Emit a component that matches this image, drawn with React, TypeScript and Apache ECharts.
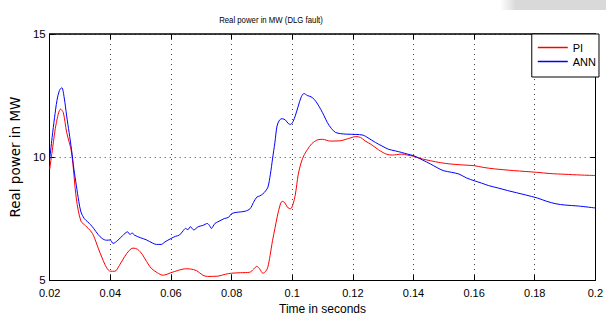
import React, { useEffect, useRef } from "react";
import * as echarts from "echarts";

const titleText = "Real power in MW (DLG fault)";
const xAxisName = "Time in seconds";
const yAxisName = "Real power in MW";
const seriesNames = ["PI", "ANN"];
const xTicks = [0.02, 0.04, 0.06, 0.08, 0.1, 0.12, 0.14, 0.16, 0.18, 0.2];
const yTicks = [5, 10, 15];

const piTime = [
  0.02, 0.021, 0.0222, 0.0236, 0.0245, 0.0256, 0.0272, 0.0288, 0.0303, 0.0319,
  0.0335, 0.0345, 0.036, 0.0373, 0.0388, 0.04, 0.0415, 0.043, 0.0447, 0.0462,
  0.0475, 0.049, 0.0505, 0.052, 0.0535, 0.0555, 0.0574, 0.06, 0.0625, 0.0648,
  0.0665, 0.0685, 0.0705, 0.072, 0.0755, 0.078, 0.08, 0.083, 0.086, 0.0873,
  0.0883, 0.0893, 0.0903, 0.0912, 0.0919, 0.0927, 0.0935, 0.0943, 0.0951, 0.096,
  0.0967, 0.0975, 0.0985, 0.0995, 0.1003, 0.101, 0.102, 0.103, 0.104, 0.105,
  0.1065, 0.1084, 0.11, 0.1125, 0.1157, 0.1185, 0.121, 0.1225, 0.124, 0.1262,
  0.1284, 0.131, 0.133, 0.1345, 0.136, 0.138, 0.14, 0.142, 0.1456, 0.149,
  0.152, 0.156, 0.16, 0.163, 0.1667, 0.173, 0.1807, 0.185, 0.19, 0.195, 0.2,
];
const piPower = [
  9.5, 10.4, 11.4, 11.95, 11.8, 11.0, 10.2, 8.3, 7.4, 7.2,
  7.0, 6.8, 6.3, 5.9, 5.5, 5.36, 5.36, 5.6, 5.95, 6.2,
  6.3, 6.25, 6.05, 5.75, 5.48, 5.3, 5.2, 5.3, 5.4, 5.46,
  5.45, 5.38, 5.2, 5.15, 5.16, 5.24, 5.28, 5.3, 5.32, 5.45,
  5.56, 5.45, 5.28, 5.35, 5.5, 6.0, 6.6, 7.1, 7.6, 8.05,
  8.2, 8.15, 7.95, 7.9, 8.1, 8.45, 9.3, 9.8, 10.1, 10.3,
  10.55, 10.7, 10.72, 10.65, 10.66, 10.75, 10.83, 10.8, 10.66, 10.5,
  10.3, 10.12, 10.08, 10.1, 10.12, 10.08, 10.03, 9.95, 9.85, 9.77,
  9.72, 9.68, 9.65, 9.58, 9.52, 9.45, 9.38, 9.33, 9.3, 9.27, 9.25,
];

const annTime = [
  0.02, 0.0208, 0.0216, 0.0224, 0.0232, 0.024, 0.0248, 0.0256, 0.0264, 0.0272,
  0.028, 0.0288, 0.0296, 0.0303, 0.0314, 0.0325, 0.0335, 0.0345, 0.036, 0.0373,
  0.0387, 0.04, 0.0409, 0.0425, 0.044, 0.0457, 0.0465, 0.0472, 0.0479, 0.05,
  0.052, 0.054, 0.0552, 0.0568, 0.058, 0.06, 0.0615, 0.0628, 0.064, 0.0648,
  0.0656, 0.0664, 0.0675, 0.069, 0.0705, 0.072, 0.0728, 0.0733, 0.0745, 0.0755,
  0.0776, 0.079, 0.08, 0.0815, 0.0829, 0.0845, 0.0861, 0.0872, 0.0883, 0.0893,
  0.0903, 0.0912, 0.092, 0.0928, 0.0935, 0.0943, 0.095, 0.0958, 0.0967, 0.0978,
  0.0988, 0.0995, 0.1003, 0.101, 0.102, 0.103, 0.1039, 0.105, 0.1062, 0.1073,
  0.1084, 0.1094, 0.1105, 0.1116, 0.113, 0.1143, 0.116, 0.118, 0.121, 0.1234,
  0.125, 0.1275, 0.1296, 0.1317, 0.134, 0.136, 0.138, 0.1402, 0.143, 0.1456,
  0.1478, 0.1498, 0.1525, 0.155, 0.1575, 0.16, 0.1625, 0.1648, 0.168, 0.171,
  0.174, 0.177, 0.181, 0.184, 0.187, 0.19, 0.1944, 0.2,
];
const annPower = [
  9.9, 10.8, 11.6, 12.3, 12.7, 12.82, 12.4, 11.67, 11.0, 10.3,
  9.5, 8.84, 8.2, 7.77, 7.5, 7.37, 7.25, 7.1, 6.85, 6.69,
  6.62, 6.63, 6.49, 6.62, 6.8, 6.96, 6.85, 6.92, 6.83, 6.72,
  6.63, 6.5, 6.45, 6.45, 6.55, 6.69, 6.78, 6.83, 7.0, 7.1,
  7.05, 7.17, 7.04, 7.17, 7.22, 7.3, 7.2, 7.1, 7.3, 7.37,
  7.5, 7.55, 7.7, 7.75, 7.77, 7.8, 7.9, 8.15, 8.37, 8.42,
  8.5, 8.62, 8.78, 9.3, 9.92, 10.6, 11.26, 11.5, 11.56, 11.5,
  11.35, 11.33, 11.45, 11.67, 12.07, 12.45, 12.58, 12.5, 12.45, 12.34,
  12.15, 11.94, 11.68, 11.4, 11.15, 11.0, 10.95, 10.93, 10.92, 10.89,
  10.78, 10.59, 10.45, 10.32, 10.25, 10.19, 10.12, 10.05, 9.88, 9.72,
  9.57, 9.45, 9.38, 9.31, 9.15, 9.04, 8.94, 8.84, 8.74, 8.64,
  8.55, 8.46, 8.33, 8.2, 8.1, 8.05, 8.01, 7.93,
];

const FONT = "'Liberation Sans', Arial, sans-serif";

export default function App() {
  const ref = useRef<HTMLDivElement>(null);
  useEffect(() => {
    if (!ref.current) return;
    const chart = echarts.init(ref.current, null, { renderer: "svg" });
    const xMin = xTicks[0];
    const xMax = xTicks[xTicks.length - 1];
    const yMin = yTicks[0];
    const yMax = yTicks[yTicks.length - 1];
    const dotted = { color: "#444", width: 1, type: [1, 4] as any };
    chart.setOption({
      animation: false,
      backgroundColor: "#fff",
      textStyle: { fontFamily: FONT },
      grid: { left: 32.5, right: 6.5, top: 34, bottom: 38 },
      graphic: [
        {
          type: "rect",
          shape: { x: 500, y: 0, width: 106, height: 10 },
          style: {
            fill: new echarts.graphic.LinearGradient(0, 0, 1, 0, [
              { offset: 0, color: "rgba(217,217,217,0)" },
              { offset: 0.15, color: "rgba(217,217,217,1)" },
              { offset: 1, color: "rgba(217,217,217,1)" },
            ]),
          },
        },
        {
          type: "text",
          x: 271,
          y: 20,
          scaleX: 0.82,
          style: {
            text: titleText,
            fontFamily: FONT,
            fontSize: 9.5,
            fill: "#000",
            align: "center",
            verticalAlign: "middle",
          },
        },
      ],
      legend: {
        orient: "vertical",
        right: 7,
        top: 34,
        data: seriesNames,
        icon: "rect",
        borderColor: "#000",
        borderWidth: 1,
        backgroundColor: "#fff",
        padding: [8, 3, 10, 6],
        itemWidth: 30,
        itemHeight: 1.5,
        itemGap: 3,
        textStyle: { fontFamily: FONT, fontSize: 11, color: "#000" },
      },
      xAxis: [
        {
          type: "value",
          min: xMin,
          max: xMax,
          interval: 0.02,
          position: "bottom",
          name: xAxisName,
          nameLocation: "middle",
          nameGap: 20,
          nameTextStyle: { fontFamily: FONT, fontSize: 12, color: "#000" },
          axisLine: { lineStyle: { color: "#000", width: 1 } },
          axisTick: { inside: true, length: 5, lineStyle: { color: "#000" } },
          axisLabel: {
            color: "#000",
            fontFamily: FONT,
            fontSize: 11,
            margin: 7,
            formatter: (v: number) => String(+v.toFixed(2)),
          },
          splitLine: { show: true, lineStyle: dotted },
        },
        {
          type: "value",
          min: xMin,
          max: xMax,
          interval: 0.02,
          position: "top",
          axisLine: { lineStyle: { color: "#000", width: 1.5 } },
          axisTick: { inside: true, length: 5, lineStyle: { color: "#000" } },
          axisLabel: { show: false },
          splitLine: { show: false },
        },
      ],
      yAxis: [
        {
          type: "value",
          min: yMin,
          max: yMax,
          interval: 5,
          position: "left",
          name: yAxisName,
          nameLocation: "middle",
          nameGap: 10,
          nameTextStyle: { fontFamily: "'DejaVu Sans', sans-serif", fontSize: 13.5, color: "#000" },
          axisLine: { lineStyle: { color: "#000", width: 1 } },
          axisTick: { inside: true, length: 5, lineStyle: { color: "#000" } },
          axisLabel: { color: "#000", fontFamily: FONT, fontSize: 11.5, margin: 4 },
          splitLine: { show: true, lineStyle: dotted },
        },
        {
          type: "value",
          min: yMin,
          max: yMax,
          interval: 5,
          position: "right",
          axisLine: { lineStyle: { color: "#000", width: 1 } },
          axisTick: { inside: true, length: 5, lineStyle: { color: "#000" } },
          axisLabel: { show: false },
          splitLine: { show: false },
        },
      ],
      series: [
        {
          name: seriesNames[0],
          type: "line",
          data: piTime.map((t, i) => [t, piPower[i]]),
          showSymbol: false,
          symbol: "none",
          smooth: 0.3,
          lineStyle: { color: "#ff0000", width: 1 },
          itemStyle: { color: "#ff0000" },
        },
        {
          name: seriesNames[1],
          type: "line",
          data: annTime.map((t, i) => [t, annPower[i]]),
          showSymbol: false,
          symbol: "none",
          smooth: 0.3,
          lineStyle: { color: "#0000ff", width: 1 },
          itemStyle: { color: "#0000ff" },
        },
      ],
    });
    return () => chart.dispose();
  }, []);
  return (
    <div
      ref={ref}
      style={{ position: "absolute", left: 0, top: 0, width: 606, height: 320 }}
    />
  );
}
